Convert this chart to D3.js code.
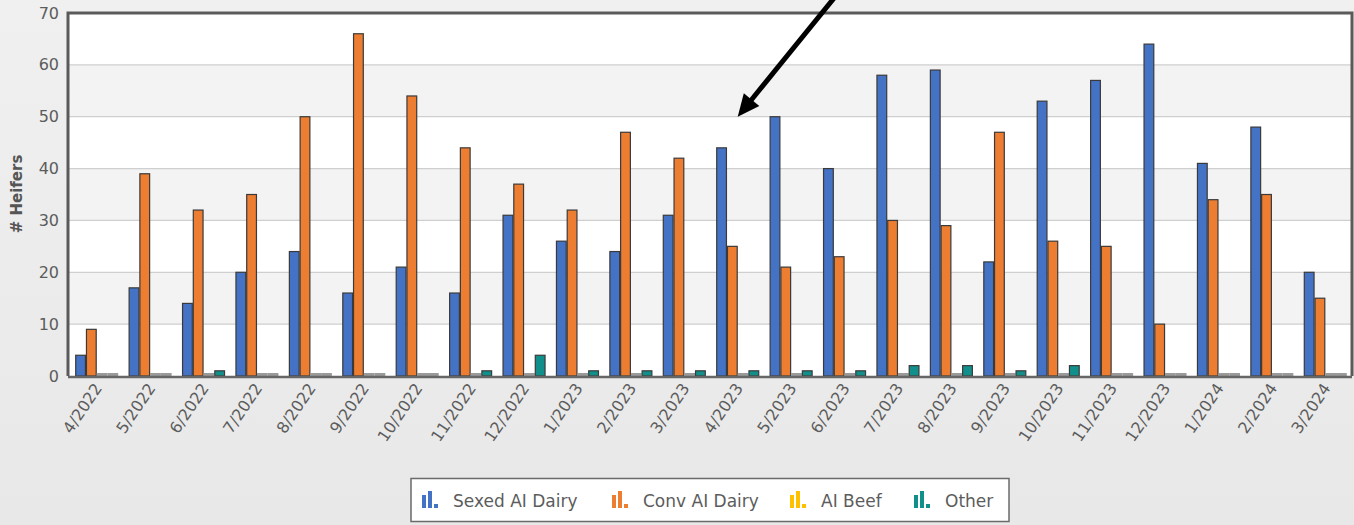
<!DOCTYPE html>
<html>
<head>
<meta charset="utf-8">
<script src="https://cdn.jsdelivr.net/npm/d3@7/dist/d3.min.js"></script>
<style>
  html, body { margin: 0; padding: 0; }
  body { width: 1354px; height: 525px; overflow: hidden; background: #ebebeb; }
  svg { display: block; }
  text { font-family: "DejaVu Sans", Verdana, sans-serif; }
</style>
</head>
<body>
<svg id="chart" width="1354" height="525"></svg>
<script>
// Monthly heifer counts by breeding type
const months = ["4/2022","5/2022","6/2022","7/2022","8/2022","9/2022","10/2022","11/2022","12/2022",
  "1/2023","2/2023","3/2023","4/2023","5/2023","6/2023","7/2023","8/2023","9/2023","10/2023","11/2023","12/2023",
  "1/2024","2/2024","3/2024"];
const sexedAIDairy = [4,17,14,20,24,16,21,16,31,26,24,31,44,50,40,58,59,22,53,57,64,41,48,20];
const convAIDairy  = [9,39,32,35,50,66,54,44,37,32,47,42,25,21,23,30,29,47,26,25,10,34,35,15];
const aiBeef       = [0,0,0,0,0,0,0,0,0,0,0,0,0,0,0,0,0,0,0,0,0,0,0,0];
const other        = [0,0,1,0,0,0,0,1,4,1,1,1,1,1,1,2,2,1,2,0,0,0,0,0];
const seriesNames  = ["Sexed AI Dairy","Conv AI Dairy","AI Beef","Other"];
const seriesColors = ["#4472c4","#ed7d31","#ffc000","#11908b"];
const yTicks       = [0,10,20,30,40,50,60,70];

const seriesData = [sexedAIDairy, convAIDairy, aiBeef, other];

const svg = d3.select("#chart");
const plot = { left: 68, right: 1352, top: 13, bottom: 376 };
const labelColor = "#5c5c5c";

// page backdrop
const bg = svg.append("defs").append("linearGradient")
  .attr("id", "pageBg").attr("x1", 0).attr("y1", 0).attr("x2", 0).attr("y2", 1);
bg.append("stop").attr("offset", "0%").attr("stop-color", "#f0f0f0");
bg.append("stop").attr("offset", "100%").attr("stop-color", "#e8e8e8");
svg.append("rect").attr("width", 1354).attr("height", 525).attr("fill", "url(#pageBg)");

const x = d3.scaleBand().domain(months).range([70, 1352]).padding(0);
const groupW = 43;
const xs = d3.scaleBand().domain(seriesNames).range([-groupW / 2, groupW / 2]).padding(0);
const y = d3.scaleLinear().domain([0, 70]).range([plot.bottom, plot.top]);

// alternating horizontal bands
const bandPairs = d3.pairs(yTicks);
svg.append("g").selectAll("rect").data(bandPairs).join("rect")
  .attr("x", plot.left).attr("width", plot.right - plot.left)
  .attr("y", d => y(d[1])).attr("height", d => y(d[0]) - y(d[1]))
  .attr("fill", (d, i) => i % 2 === 0 ? "#ffffff" : "#f3f3f3");

// gridlines
svg.append("g").selectAll("line").data(yTicks.slice(1, -1)).join("line")
  .attr("x1", plot.left).attr("x2", plot.right)
  .attr("y1", d => y(d)).attr("y2", d => y(d))
  .attr("stroke", "#cfcfcf").attr("stroke-width", 1.2);

// bars (zero values show as a flat grey stub on the baseline)
const barsG = svg.append("g");
months.forEach((m, i) => {
  const cx = x(m) + x.bandwidth() / 2;
  seriesData.forEach((arr, s) => {
    const v = arr[i];
    const bx = cx + xs(seriesNames[s]);
    const bw = xs.bandwidth();
    if (v > 0) {
      barsG.append("rect")
        .attr("x", bx + 0.5).attr("width", bw - 1)
        .attr("y", y(v)).attr("height", y(0) - y(v))
        .attr("fill", seriesColors[s])
        .attr("stroke", "#3a3a3a").attr("stroke-width", 1.2);
    } else {
      barsG.append("rect")
        .attr("x", bx).attr("width", bw)
        .attr("y", y(0) - 3).attr("height", 3)
        .attr("fill", "#9a9a9a");
    }
  });
});

// frame
svg.append("path")
  .attr("d", `M${plot.left},${plot.bottom} V${plot.top} H${plot.right} V${plot.bottom}`)
  .attr("fill", "none").attr("stroke", "#5a5a5a").attr("stroke-width", 3);
svg.append("line")
  .attr("x1", plot.left).attr("x2", plot.right)
  .attr("y1", plot.bottom + 1).attr("y2", plot.bottom + 1)
  .attr("stroke", "#666").attr("stroke-width", 2.5);

// y axis labels
const yAxis = d3.axisLeft(y).tickValues(yTicks).tickSize(0).tickPadding(8);
const gy = svg.append("g").attr("transform", `translate(${plot.left - 1},0)`).call(yAxis);
gy.select(".domain").remove();
gy.selectAll("text").attr("font-size", 16).attr("fill", labelColor)
  .style("font-family", "'DejaVu Sans', Verdana, sans-serif");

svg.append("text")
  .attr("transform", `translate(22,194) rotate(-90)`)
  .attr("text-anchor", "middle")
  .attr("font-size", 15).attr("font-weight", "bold").attr("fill", "#555")
  .text("# Heifers");

// x axis labels
const xAxis = d3.axisBottom(x).tickSize(0).tickPadding(0);
const gx = svg.append("g").attr("transform", `translate(0,${plot.bottom + 3})`).call(xAxis);
gx.select(".domain").remove();
gx.selectAll("text")
  .attr("font-size", 16).attr("fill", labelColor)
  .style("font-family", "'DejaVu Sans', Verdana, sans-serif")
  .attr("text-anchor", "end")
  .attr("dy", 0).attr("y", 0)
  .attr("transform", "translate(6,9) rotate(-56)");

// legend
const legend = svg.append("g");
legend.append("rect")
  .attr("x", 411).attr("y", 478.5).attr("width", 598).attr("height", 43)
  .attr("fill", "#ffffff").attr("stroke", "#6a6a6a").attr("stroke-width", 1.5);
const legendX = [422, 612, 790, 914];
seriesNames.forEach((name, s) => {
  const g = legend.append("g").attr("transform", `translate(${legendX[s]},508)`);
  // small bar-chart glyph: medium, tall, short bars
  const icon = [[0, 13], [6, 17], [12, 4]];
  icon.forEach(([ix, ih]) => {
    g.append("rect").attr("x", ix).attr("y", -ih).attr("width", 4).attr("height", ih)
      .attr("fill", seriesColors[s]);
  });
  g.append("text").attr("x", 31).attr("y", -1).attr("font-size", 17).attr("fill", labelColor)
    .text(name);
});

// pointer arrow to the 4/2023 group
const tipX = x("4/2023") + x.bandwidth() / 2;
const tipY = y(50);
const tailX = tipX + 98, tailY = -4;
const ang = Math.atan2(tipY - tailY, tipX - tailX);
const headLen = 22, headHalf = 10;
const baseX = tipX - headLen * Math.cos(ang), baseY = tipY - headLen * Math.sin(ang);
svg.append("line")
  .attr("x1", tailX).attr("y1", tailY).attr("x2", baseX + 3 * Math.cos(ang)).attr("y2", baseY + 3 * Math.sin(ang))
  .attr("stroke", "#000").attr("stroke-width", 5);
svg.append("path")
  .attr("d", `M${tipX},${tipY} L${baseX + headHalf * Math.sin(ang)},${baseY - headHalf * Math.cos(ang)} L${baseX - headHalf * Math.sin(ang)},${baseY + headHalf * Math.cos(ang)} Z`)
  .attr("fill", "#000");
</script>
</body>
</html>
